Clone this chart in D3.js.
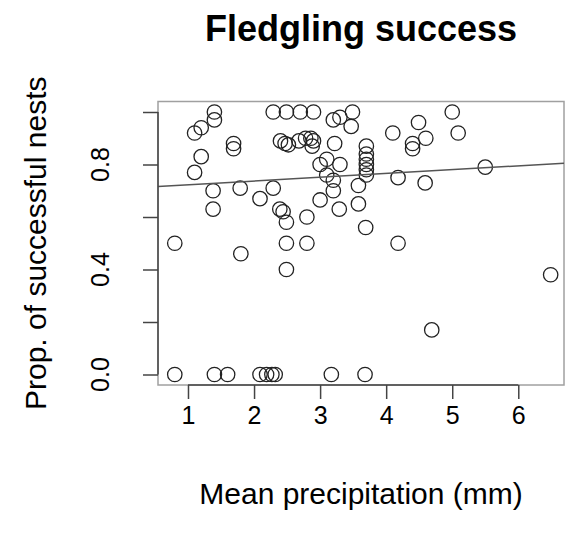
<!DOCTYPE html>
<html>
<head>
<meta charset="utf-8">
<script src="https://cdn.jsdelivr.net/npm/d3@7"></script>
<style>
  body { margin: 0; background: #fff; }
  text { font-family: "Liberation Sans", Arial, sans-serif; fill: #000; }
</style>
</head>
<body>
<div id="chart"></div>
<script>
// data
const precip = [
  1.40, 2.29, 2.49, 2.70, 2.90, 3.49, 5.00,
  1.40, 1.20, 1.10, 1.69, 1.69, 1.20, 1.10,
  3.20, 3.30, 3.47, 4.10, 4.49, 4.40, 4.40, 4.60, 5.09, 5.50,
  2.40, 2.47, 2.52, 2.68, 2.78, 2.86, 2.90, 2.88,
  3.22, 3.00, 3.10, 3.30, 3.10, 3.20,
  3.70, 3.70, 3.70, 3.70, 3.70, 3.70,
  3.58, 3.58, 3.20, 3.00, 3.29, 4.18, 4.59,
  2.80, 2.49, 3.69, 2.80, 2.49, 4.18, 0.80, 1.80, 2.49, 6.49, 4.69,
  1.38, 1.79, 1.38, 2.09, 2.29, 2.39, 2.44,
  0.80, 1.40, 1.60, 2.09, 2.19, 2.27, 2.32, 3.17, 3.68
];
const propSuccess = [
  1.00, 1.00, 1.00, 1.00, 1.00, 1.00, 1.00,
  0.97, 0.94, 0.92, 0.88, 0.86, 0.83, 0.77,
  0.97, 0.98, 0.945, 0.92, 0.96, 0.88, 0.86, 0.90, 0.92, 0.79,
  0.89, 0.88, 0.875, 0.89, 0.90, 0.90, 0.89, 0.87,
  0.88, 0.80, 0.82, 0.80, 0.76, 0.74,
  0.87, 0.84, 0.82, 0.80, 0.78, 0.76,
  0.72, 0.65, 0.70, 0.665, 0.63, 0.75, 0.73,
  0.60, 0.58, 0.56, 0.50, 0.50, 0.50, 0.50, 0.46, 0.40, 0.38, 0.17,
  0.70, 0.71, 0.63, 0.67, 0.71, 0.63, 0.62,
  0, 0, 0, 0, 0, 0, 0, 0, 0
];
const xTicks = [1, 2, 3, 4, 5, 6];
const yTicks = [0, 0.2, 0.4, 0.6, 0.8, 1.0];
const yLabels = [0, 0.4, 0.8];
// fitted line shown on the plot
const fitIntercept = 0.708;
const fitSlope = 0.0145;

const W = 566, H = 548;
const plot = { left: 158, right: 564, top: 101.5, bottom: 385 };

const svg = d3.select("#chart").append("svg")
    .attr("width", W)
    .attr("height", H);

const x = d3.scaleLinear().domain([0.546, 6.692]).range([plot.left, plot.right]);
const y = d3.scaleLinear().domain([-0.04, 1.04]).range([plot.bottom, plot.top]);

const points = precip.map((p, i) => ({ p: p, s: propSuccess[i] }));

// box
svg.append("rect")
    .attr("x", plot.left)
    .attr("y", plot.top)
    .attr("width", plot.right - plot.left)
    .attr("height", plot.bottom - plot.top)
    .attr("fill", "none")
    .attr("stroke", "#a0a0a0")
    .attr("stroke-width", 1.5);

// points
svg.selectAll(".pt")
    .data(points)
    .enter()
    .append("circle")
    .attr("class", "pt")
    .attr("cx", d => x(d.p))
    .attr("cy", d => y(d.s))
    .attr("r", 7.2)
    .attr("fill", "none")
    .attr("stroke", "#222")
    .attr("stroke-width", 1.3);

// fitted line
const xd = x.domain();
svg.append("line")
    .attr("x1", x(xd[0]))
    .attr("y1", y(fitIntercept + fitSlope * xd[0]))
    .attr("x2", x(xd[1]))
    .attr("y2", y(fitIntercept + fitSlope * xd[1]))
    .attr("stroke", "#555")
    .attr("stroke-width", 1.5);

// x axis
const gx = svg.append("g")
    .attr("transform", `translate(0,${plot.bottom})`)
    .call(d3.axisBottom(x).tickValues(xTicks).tickSize(14).tickPadding(7).tickFormat(d3.format("d")));
gx.select(".domain").remove();
gx.selectAll(".tick line").attr("stroke", "#444").attr("stroke-width", 1.5);
gx.selectAll(".tick text").style("font-size", "25px");
gx.append("line")
    .attr("x1", x(xTicks[0])).attr("x2", x(xTicks[xTicks.length - 1]))
    .attr("stroke", "#444").attr("stroke-width", 1.5);

// y axis
const gy = svg.append("g")
    .attr("transform", `translate(${plot.left},0)`)
    .call(d3.axisLeft(y).tickValues(yTicks).tickSize(15).tickFormat(""));
gy.select(".domain").remove();
gy.selectAll(".tick line").attr("stroke", "#444").attr("stroke-width", 1.5);
gy.append("line")
    .attr("y1", y(yTicks[0])).attr("y2", y(yTicks[yTicks.length - 1]))
    .attr("stroke", "#444").attr("stroke-width", 1.5);

svg.selectAll(".ylab")
    .data(yLabels)
    .enter()
    .append("text")
    .attr("class", "ylab")
    .attr("transform", d => `translate(109,${y(d)}) rotate(-90)`)
    .attr("text-anchor", "middle")
    .style("font-size", "25px")
    .text(d => d3.format(".1f")(d));

// title
svg.append("text")
    .attr("x", (plot.left + plot.right) / 2)
    .attr("y", 41)
    .attr("text-anchor", "middle")
    .style("font-size", "36px")
    .style("font-weight", "bold")
    .text("Fledgling success");

// x label
svg.append("text")
    .attr("x", (plot.left + plot.right) / 2)
    .attr("y", 504)
    .attr("text-anchor", "middle")
    .style("font-size", "30px")
    .text("Mean precipitation (mm)");

// y label
svg.append("text")
    .attr("transform", `translate(46,${(plot.top + plot.bottom) / 2}) rotate(-90)`)
    .attr("text-anchor", "middle")
    .style("font-size", "30px")
    .text("Prop. of successful nests");
</script>
</body>
</html>
